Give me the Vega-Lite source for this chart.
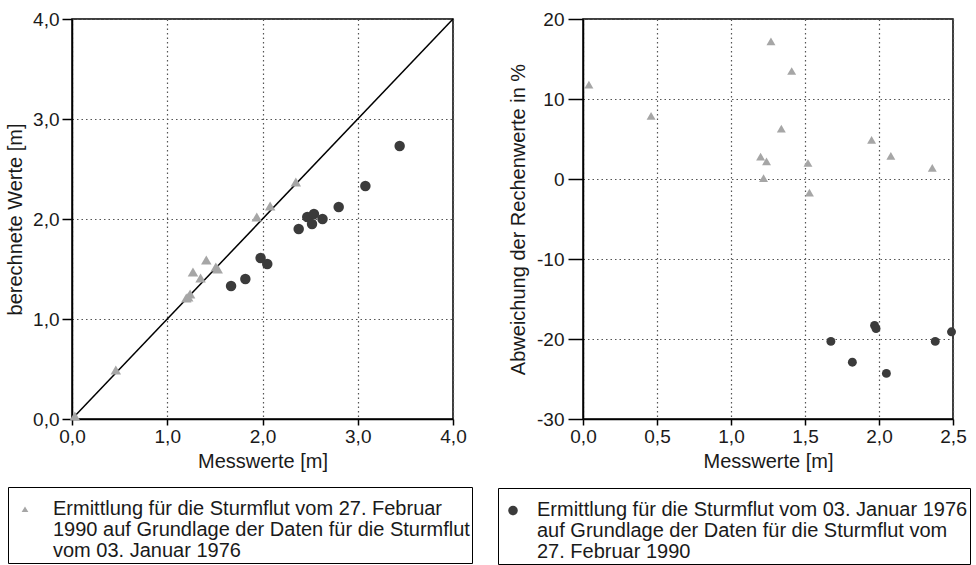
{
  "$schema": "https://vega.github.io/schema/vega-lite/v6.json",
  "padding": {"left": 4, "top": 9, "right": 0, "bottom": 0},
  "background": "white",
  "spacing": 22,
  "datasets": {
    "diag": [{"x": 0, "y": 0}, {"x": 4, "y": 4}],
    "leftA": [
      {"series": "A", "x": 0.03, "y": 0.03},
      {"series": "A", "x": 0.46, "y": 0.49},
      {"series": "A", "x": 1.20, "y": 1.21},
      {"series": "A", "x": 1.22, "y": 1.22},
      {"series": "A", "x": 1.24, "y": 1.25},
      {"series": "A", "x": 1.27, "y": 1.47},
      {"series": "A", "x": 1.35, "y": 1.41},
      {"series": "A", "x": 1.41, "y": 1.59},
      {"series": "A", "x": 1.51, "y": 1.52},
      {"series": "A", "x": 1.53, "y": 1.50},
      {"series": "A", "x": 1.94, "y": 2.02},
      {"series": "A", "x": 2.08, "y": 2.13},
      {"series": "A", "x": 2.35, "y": 2.37}
    ],
    "leftB": [
      {"series": "B", "x": 1.67, "y": 1.33},
      {"series": "B", "x": 1.82, "y": 1.40},
      {"series": "B", "x": 1.98, "y": 1.61},
      {"series": "B", "x": 2.05, "y": 1.55},
      {"series": "B", "x": 2.38, "y": 1.90},
      {"series": "B", "x": 2.47, "y": 2.02},
      {"series": "B", "x": 2.54, "y": 2.05},
      {"series": "B", "x": 2.52, "y": 1.95},
      {"series": "B", "x": 2.63, "y": 2.00},
      {"series": "B", "x": 2.80, "y": 2.12},
      {"series": "B", "x": 3.08, "y": 2.33},
      {"series": "B", "x": 3.44, "y": 2.73}
    ],
    "rightA": [
      {"series": "A", "x": 0.04, "y": 11.8},
      {"series": "A", "x": 0.46, "y": 7.9},
      {"series": "A", "x": 1.20, "y": 2.8},
      {"series": "A", "x": 1.22, "y": 0.1},
      {"series": "A", "x": 1.24, "y": 2.2},
      {"series": "A", "x": 1.27, "y": 17.2},
      {"series": "A", "x": 1.34, "y": 6.3},
      {"series": "A", "x": 1.41, "y": 13.5},
      {"series": "A", "x": 1.52, "y": 2.0},
      {"series": "A", "x": 1.53, "y": -1.7},
      {"series": "A", "x": 1.95, "y": 4.9},
      {"series": "A", "x": 2.08, "y": 2.9},
      {"series": "A", "x": 2.36, "y": 1.4}
    ],
    "rightB": [
      {"series": "B", "x": 1.675, "y": -20.3},
      {"series": "B", "x": 1.82, "y": -22.9},
      {"series": "B", "x": 1.97, "y": -18.3},
      {"series": "B", "x": 1.98, "y": -18.7},
      {"series": "B", "x": 2.05, "y": -24.3},
      {"series": "B", "x": 2.38, "y": -20.3},
      {"series": "B", "x": 2.49, "y": -19.1}
    ],
    "none": []
  },
  "hconcat": [
    {
      "width": 381,
      "height": 400,
      "layer": [
        {
          "data": {"name": "diag"},
          "mark": {"type": "line", "color": "black", "strokeWidth": 1.5},
          "encoding": {
            "x": {"field": "x", "type": "quantitative", "scale": {"domain": [0, 4], "nice": false},
              "axis": {"title": "Messwerte [m]", "values": [0, 1, 2, 3, 4], "labelExpr": "replace(format(datum.value,'.1f'),'.',',')", "tickSize": 6, "labelPadding": 2, "titlePadding": 5}},
            "y": {"field": "y", "type": "quantitative", "scale": {"domain": [0, 4], "nice": false},
              "axis": {"title": "berechnete Werte [m]", "values": [0, 1, 2, 3, 4], "labelExpr": "replace(format(datum.value,'.1f'),'.',',')", "tickSize": 10, "labelPadding": 3, "titlePadding": 7}}
          }
        },
        {
          "data": {"name": "leftA"},
          "mark": {"type": "point", "filled": true, "size": 110, "opacity": 1, "shape": "triangle-up", "color": "#a6a6a6"},
          "encoding": {
            "x": {"field": "x", "type": "quantitative"},
            "y": {"field": "y", "type": "quantitative"}
          }
        },
        {
          "data": {"name": "leftB"},
          "mark": {"type": "point", "filled": true, "size": 110, "opacity": 1, "shape": "circle", "color": "#3b3b3b"},
          "encoding": {
            "x": {"field": "x", "type": "quantitative"},
            "y": {"field": "y", "type": "quantitative"}
          }
        },
        {
          "data": {"name": "none"},
          "mark": {"type": "point", "filled": true, "opacity": 1, "shape": "M -1 3.9 L 1 3.9 L 0 2.2 Z"},
          "encoding": {
            "color": {"field": "series", "type": "nominal", "scale": {"domain": ["A", "B"], "range": ["#a6a6a6", "#3b3b3b"]},
              "legend": {"orient": "none", "legendX": -64, "legendY": 468, "values": ["A"], "title": null, "strokeColor": "black", "padding": 2, "symbolOffset": 5, "symbolSize": 45, "labelLimit": 1000, "labelBaseline": "top", "labelFontSize": 20, "labelOffset": 18,
                "labelExpr": "['Ermittlung für die Sturmflut vom 27. Februar', '1990 auf Grundlage der Daten für die Sturmflut', 'vom 03. Januar 1976']"}}
          }
        }
      ]
    },
    {
      "width": 370,
      "height": 400,
      "layer": [
        {
          "data": {"name": "rightA"},
          "mark": {"type": "point", "filled": true, "size": 80, "opacity": 1, "shape": "triangle-up", "color": "#a6a6a6"},
          "encoding": {
            "x": {"field": "x", "type": "quantitative", "scale": {"domain": [0, 2.5], "nice": false},
              "axis": {"title": "Messwerte [m]", "values": [0, 0.5, 1, 1.5, 2, 2.5], "labelExpr": "replace(format(datum.value,'.1f'),'.',',')", "tickSize": 6, "labelPadding": 2, "titlePadding": 5}},
            "y": {"field": "y", "type": "quantitative", "scale": {"domain": [-30, 20], "nice": false},
              "axis": {"title": "Abweichung der Rechenwerte in %", "values": [-30, -20, -10, 0, 10, 20], "labelExpr": "toString(datum.value)", "tickSize": 15, "labelPadding": 4, "titlePadding": 8}}
          }
        },
        {
          "data": {"name": "rightB"},
          "mark": {"type": "point", "filled": true, "size": 80, "opacity": 1, "shape": "circle", "color": "#3b3b3b"},
          "encoding": {
            "x": {"field": "x", "type": "quantitative"},
            "y": {"field": "y", "type": "quantitative"}
          }
        },
        {
          "data": {"name": "none"},
          "mark": {"type": "point", "filled": true, "opacity": 1, "shape": "M -1 2.2 A 1 1 0 1 0 1 2.2 A 1 1 0 1 0 -1 2.2 Z"},
          "encoding": {
            "color": {"field": "series", "type": "nominal", "scale": {"domain": ["A", "B"], "range": ["#a6a6a6", "#3b3b3b"]},
              "legend": {"orient": "none", "legendX": -85, "legendY": 469, "values": ["B"], "title": null, "strokeColor": "black", "padding": 2, "symbolOffset": 3, "symbolSize": 90, "labelLimit": 1000, "labelBaseline": "top", "labelFontSize": 20, "labelOffset": 14,
                "labelExpr": "['Ermittlung für die Sturmflut vom 03. Januar 1976', 'auf Grundlage der Daten für die Sturmflut vom', '27. Februar 1990']"}}
          }
        }
      ]
    }
  ],
  "resolve": {
    "scale": {"color": "independent"},
    "legend": {"color": "independent"}
  },
  "config": {
    "font": "Liberation Sans",
    "view": {"stroke": "black", "strokeWidth": 1.5},
    "style": {"guide-label": {"lineHeight": 21}},
    "axis": {
      "grid": true, "gridColor": "#555555", "gridDash": [1.5, 3], "gridWidth": 1.2, "labelFlush": false,
      "domainColor": "black", "domainWidth": 1.5, "tickColor": "black", "tickWidth": 1.5,
      "labelFont": "Liberation Sans", "labelFontSize": 19, "labelColor": "#1a1a1a",
      "titleFont": "Liberation Sans", "titleFontSize": 20, "titleFontWeight": "normal", "titleColor": "#1a1a1a"
    },
    "legend": {"labelFont": "Liberation Sans", "labelColor": "#1a1a1a", "labelFontSize": 20}
  }
}
